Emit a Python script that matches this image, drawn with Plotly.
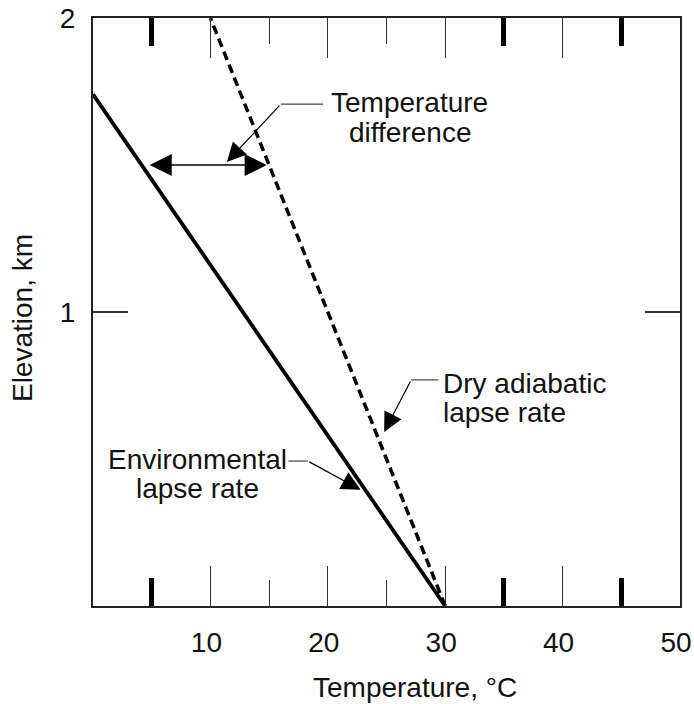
import plotly.graph_objects as go

# lapse-rate lines (temperature in deg C, elevation in km)
env_temps = [30, 0]
env_elev = [0, 1.74]
dry_temps = [30, 10]
dry_elev = [0, 2]

# horizontal "temperature difference" arrow at 1.5 km
diff_elev = 1.5
diff_temps = [4.7, 14.8]

x_ticks = [10, 20, 30, 40, 50]
x_minor = [15, 25]
x_bold = [5, 35, 45]
y_ticks = [1, 2]

FONT = "Arial, Liberation Sans, sans-serif"
INK = "#111111"
LINE_GAP = 0.101  # spacing between the two lines of a callout, in km

fig = go.Figure()
fig.add_trace(go.Scatter(x=env_temps, y=env_elev, mode="lines",
                         line=dict(color="black", width=3.8), hoverinfo="skip"))
fig.add_trace(go.Scatter(x=dry_temps, y=dry_elev, mode="lines",
                         line=dict(color="black", width=3.5, dash="9px,5px"), hoverinfo="skip"))

# double-headed arrow between the two lines
fig.add_annotation(x=diff_temps[1], y=diff_elev, ax=diff_temps[0], ay=diff_elev,
                   xref="x", yref="y", axref="x", ayref="y", text="",
                   showarrow=True, arrowhead=2, startarrowhead=2, arrowside="end+start",
                   arrowsize=2.6, startarrowsize=2.6, arrowwidth=1.7, arrowcolor="black")

# callouts: (lines, text x, first line y, anchor, leader start x, elbow x, elbow y, tip x, tip y)
callouts = [
    (["Temperature", "difference"], 26.96, 1.711, "center", 19.6, 16.0, 1.707, 11.4, 1.51),
    (["Dry adiabatic", "lapse rate"], 29.65, 0.758, "left", 29.4, 27.1, 0.769, 24.8, 0.592),
    (["Environmental", "lapse rate"], 8.9, 0.50, "center", 16.65, 18.3, 0.493, 22.8, 0.395),
]
for lines, tx, ty, anchor, sx, ex, ey, px, py in callouts:
    for i, line in enumerate(lines):
        fig.add_annotation(x=tx, y=ty - i * LINE_GAP, xref="x", yref="y", text=line,
                           showarrow=False, xanchor=anchor, yanchor="middle",
                           font=dict(family=FONT, size=28, color=INK))
    fig.add_shape(type="line", x0=sx, x1=ex, y0=ey, y1=ey, xref="x", yref="y",
                  line=dict(color="#444444", width=1.2))
    fig.add_annotation(x=px, y=py, ax=ex, ay=ey, xref="x", yref="y", axref="x", ayref="y",
                       text="", showarrow=True, arrowhead=2, arrowsize=3.2,
                       arrowwidth=1.2, arrowcolor="black")

# axis titles
fig.add_annotation(x=27.4, y=-0.138, xref="x", yref="paper", text="Temperature, °C",
                   xanchor="center", yanchor="middle",
                   showarrow=False, font=dict(family=FONT, size=28, color=INK))
fig.add_annotation(x=-0.119, y=0.98, xref="paper", yref="y", text="Elevation, km",
                   xanchor="center", yanchor="middle",
                   textangle=-90, showarrow=False, font=dict(family=FONT, size=28, color=INK))

fig.update_layout(
    width=694, height=704, showlegend=False,
    margin=dict(l=93, r=14, t=18, b=98),
    plot_bgcolor="white", paper_bgcolor="white",
    font=dict(family=FONT, size=28, color=INK),
    xaxis=dict(range=[0, 50], tickvals=x_ticks, ticklabelshift=-4,
               ticks="inside", ticklen=40, tickwidth=1.3,
               tickcolor="#333333", showline=True, linecolor="#222222", linewidth=2,
               mirror="ticks", showgrid=False, zeroline=False, ticklabelstandoff=10,
               automargin=False, ticklabeloverflow="allow",
               minor=dict(tickvals=x_minor, ticks="inside", ticklen=26, tickwidth=1.3,
                          tickcolor="#333333")),
    xaxis2=dict(range=[0, 50], overlaying="x", anchor="y", side="bottom",
                tickvals=x_bold, ticks="inside", ticklen=28, tickwidth=4.5,
                tickcolor="black", showline=True, linecolor="#222222", linewidth=2,
                mirror="ticks", showticklabels=False, showgrid=False, zeroline=False,
                automargin=False),
    yaxis=dict(range=[0, 2], tickvals=y_ticks, ticks="inside", ticklen=35, tickwidth=1.5,
               tickcolor="#333333", showline=True, linecolor="#222222", linewidth=2,
               mirror="ticks", showgrid=False, zeroline=False, ticklabelstandoff=10,
               automargin=False, ticklabeloverflow="allow"),
)
# attach an invisible trace to the overlay axis so its ticks are drawn
fig.add_trace(go.Scatter(x=[None], y=[None], xaxis="x2", yaxis="y", hoverinfo="skip"))

fig.write_html("out.html", config={"displayModeBar": False},
               post_script="document.body.style.margin='0';document.body.style.overflow='hidden';")
